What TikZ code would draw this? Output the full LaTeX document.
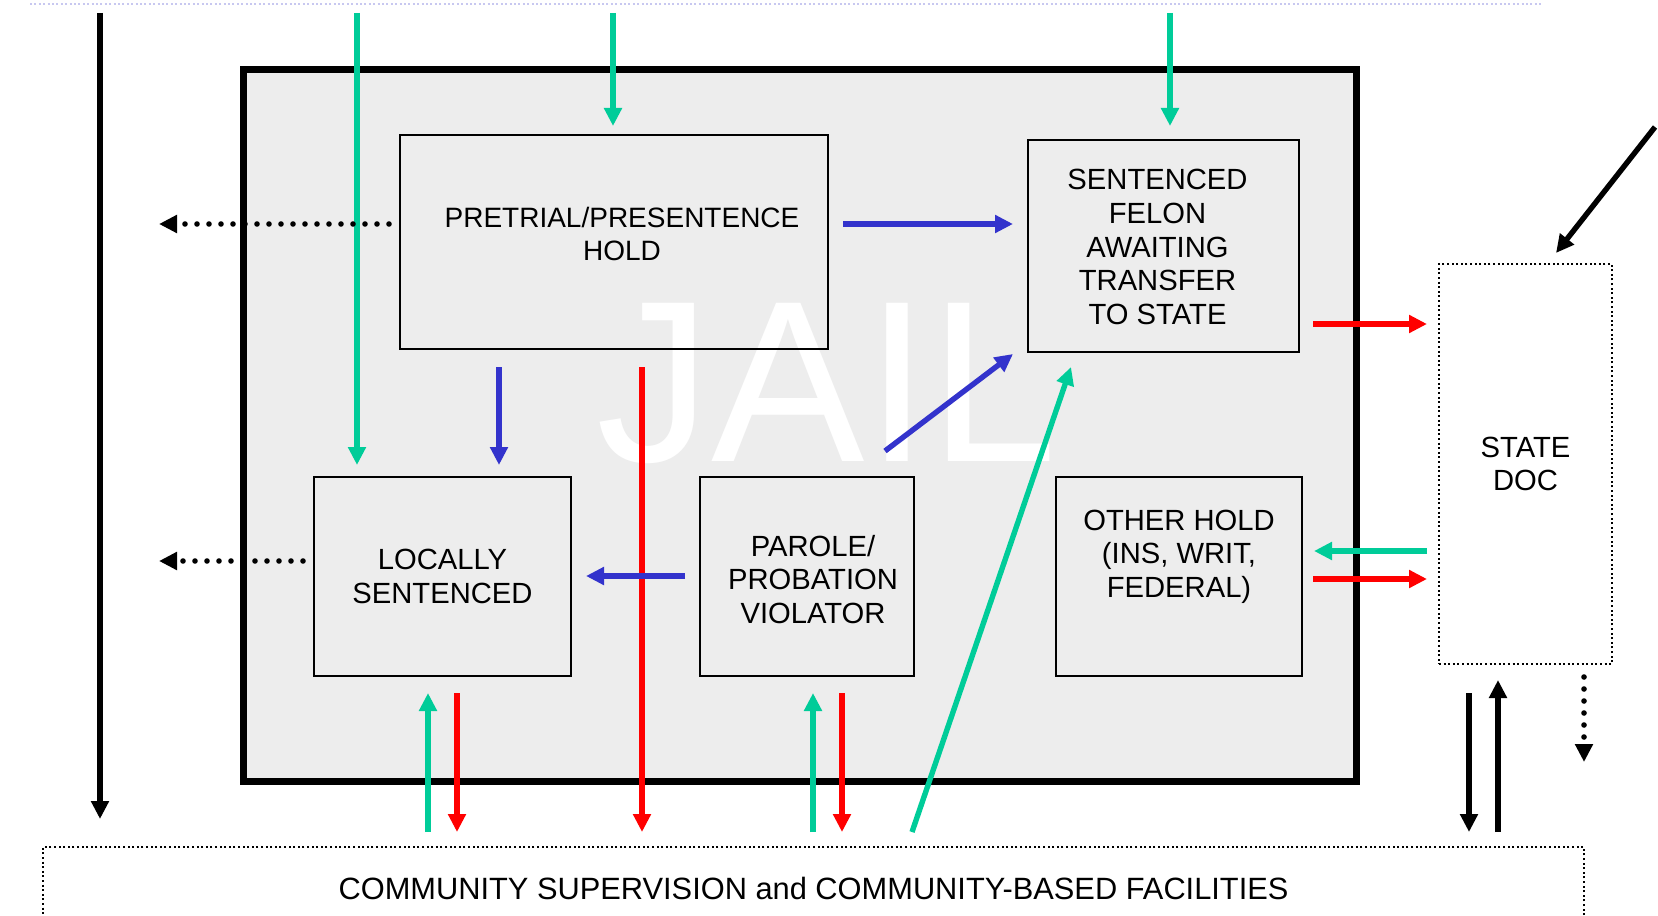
\documentclass[tikz,border=0pt]{standalone}
\usepackage{fontspec}
\setmainfont{Liberation Sans}
\usetikzlibrary{arrows.meta}
\definecolor{jailgray}{HTML}{EDEDED}
\definecolor{grn}{HTML}{00CC99}
\definecolor{blu}{HTML}{3333CC}
\definecolor{rd}{HTML}{FF0000}
\definecolor{lav}{HTML}{C8C8F0}
\begin{document}
\begin{tikzpicture}[x=0.5pt,y=-0.5pt,
  boxfont/.style={font=\fontsize{14.6}{16.8}\selectfont},
  box/.style={draw=black,line width=1pt,inner sep=0pt,align=center,boxfont},
  txt/.style={align=center,boxfont,inner sep=0pt},
  dotbox/.style={draw=black,line width=1pt,dash pattern=on 1pt off 1.3pt,inner sep=0pt,align=center,boxfont},
  flow/.style={line width=2.7pt,-{Triangle[length=9pt,width=8.6pt]}},
  gflow/.style={flow,color=grn},
  bflow/.style={flow,color=blu},
  rflow/.style={flow,color=rd},
  kflow/.style={flow,color=black},
  kdots/.style={color=black,line width=2.8pt,line cap=round,dash pattern=on 0pt off 6pt,-{Triangle[length=9pt,width=8.6pt]}}
]
\path[use as bounding box] (0,0) rectangle (1658,915);
\clip (0,0) rectangle (1658,915);

% top faint dotted line
\coordinate (topL) at (30,4);
\coordinate (topR) at (1542,4);
\draw[lav,line width=1pt,dash pattern=on 1pt off 1.2pt] (topL) -- (topR);

% jail
\node[draw=black,line width=3.5pt,fill=jailgray,minimum width=556.5pt,minimum height=355.5pt,inner sep=0pt] (jail) at (800,425.5) {};
\node[font=\fontsize{115}{115}\selectfont,text=white,anchor=base,inner sep=0pt] (jailtxt) at (827,461) {JAIL};

% boxes
\node[box,minimum width=214pt,minimum height=107pt,label={[txt,font=\fontsize{14}{16.5}\selectfont,xshift=4pt,yshift=4pt]center:PRETRIAL/PRESENTENCE\\HOLD}] (pre) at (614,242) {};
\node[box,minimum width=135.5pt,minimum height=106pt,label={[txt,xshift=-3pt,yshift=-0.5pt]center:SENTENCED\\FELON\\AWAITING\\TRANSFER\\TO STATE}] (sen) at (1163.5,246) {};
\node[box,minimum width=128.5pt,minimum height=99.5pt] (loc) at (442.5,576.5) {LOCALLY\\SENTENCED};
\node[box,minimum width=107pt,minimum height=99.5pt,label={[txt,xshift=3pt,yshift=-1.5pt]center:PAROLE/\\PROBATION\\VIOLATOR}] (par) at (807,576.5) {};
\node[box,minimum width=123pt,minimum height=99.5pt,label={[txt,yshift=10pt]center:OTHER HOLD\\(INS, WRIT,\\FEDERAL)}] (oth) at (1179,576.5) {};
\node[dotbox,minimum width=86.5pt,minimum height=200pt] (doc) at (1525.5,464) {STATE\\DOC};
\node[dotbox,minimum width=770.5pt,minimum height=41pt,font=\fontsize{15.4}{17}\selectfont] (com) at (813.5,888) {COMMUNITY SUPERVISION and COMMUNITY-BASED FACILITIES};

% coordinates for connector ends
\coordinate (k1s) at (100,13);   \coordinate (k1e) at (100,819);
\coordinate (g1s) at (357,13);   \coordinate (g1e) at (357,465);
\coordinate (g2s) at (613,13);   \coordinate (g2e) at (613,126);
\coordinate (g3s) at (1170,13);  \coordinate (g3e) at (1170,126);
\coordinate (d1s) at (389,224);  \coordinate (d1e) at (159,224);
\coordinate (d2s) at (303,561);  \coordinate (d2e) at (159,561);
\coordinate (b1s) at (843,224);  \coordinate (b1e) at (1013,224);
\coordinate (b2s) at (499,367);  \coordinate (b2e) at (499,465);
\coordinate (r1s) at (642,367);  \coordinate (r1e) at (642,832);
\coordinate (b3s) at (885,451);  \coordinate (b3e) at (1013,354);
\coordinate (b4s) at (685,576);  \coordinate (b4e) at (586,576);
\coordinate (g4s) at (428,832);  \coordinate (g4e) at (428,693);
\coordinate (r2s) at (457,693);  \coordinate (r2e) at (457,832);
\coordinate (g5s) at (813,832);  \coordinate (g5e) at (813,693);
\coordinate (r3s) at (842,693);  \coordinate (r3e) at (842,832);
\coordinate (g6s) at (912,832);  \coordinate (g6e) at (1071,367);
\coordinate (r4s) at (1313,324); \coordinate (r4e) at (1427,324);
\coordinate (g7s) at (1427,551); \coordinate (g7e) at (1314,551);
\coordinate (r5s) at (1313,579); \coordinate (r5e) at (1427,579);
\coordinate (k2s) at (1655,127); \coordinate (k2e) at (1556,253);
\coordinate (k3s) at (1469,693); \coordinate (k3e) at (1469,832);
\coordinate (k4s) at (1498,832); \coordinate (k4e) at (1498,680);
\coordinate (d3s) at (1584,677); \coordinate (d3e) at (1584,762);

% connectors
\draw[kflow] (k1s) -- (k1e);
\draw[gflow] (g1s) -- (g1e);
\draw[gflow] (g2s) -- (g2e);
\draw[gflow] (g3s) -- (g3e);
\draw[kdots] (d1s) -- (d1e);
\draw[kdots] (d2s) -- (d2e);
\draw[bflow] (b1s) -- (b1e);
\draw[bflow] (b2s) -- (b2e);
\draw[rflow] (r1s) -- (r1e);
\draw[bflow] (b3s) -- (b3e);
\draw[bflow] (b4s) -- (b4e);
\draw[gflow] (g4s) -- (g4e);
\draw[rflow] (r2s) -- (r2e);
\draw[gflow] (g5s) -- (g5e);
\draw[rflow] (r3s) -- (r3e);
\draw[gflow] (g6s) -- (g6e);
\draw[rflow] (r4s) -- (r4e);
\draw[gflow] (g7s) -- (g7e);
\draw[rflow] (r5s) -- (r5e);
\draw[kflow] (k2s) -- (k2e);
\draw[kflow] (k3s) -- (k3e);
\draw[kflow] (k4s) -- (k4e);
\draw[kdots] (d3s) -- (d3e);
\end{tikzpicture}
\end{document}
